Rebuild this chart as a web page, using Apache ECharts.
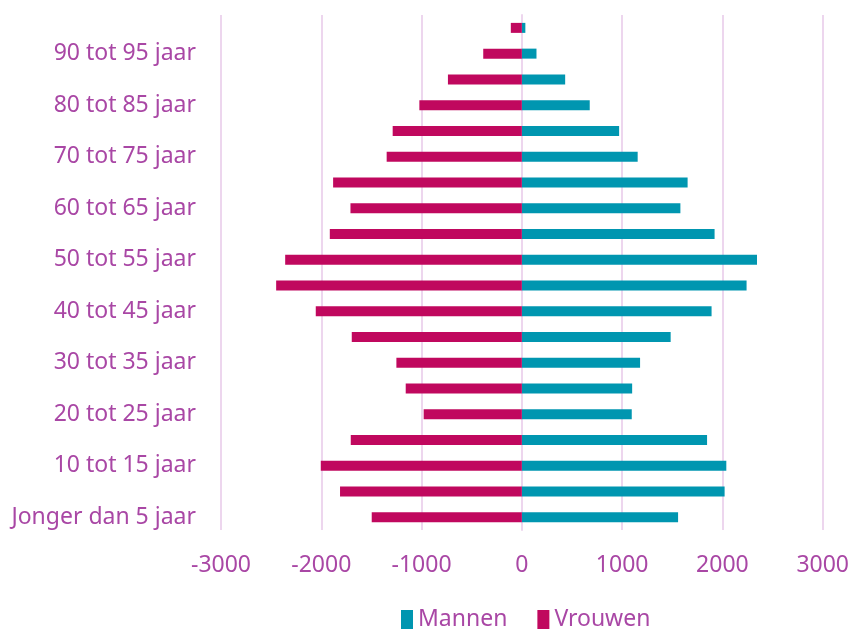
<!DOCTYPE html>
<html>
<head>
<meta charset="utf-8">
<script src="https://cdn.jsdelivr.net/npm/echarts@6/dist/echarts.min.js"></script>
<style>
  html, body { margin: 0; padding: 0; background: #fff; }
  #chart { width: 852px; height: 633px; }
</style>
</head>
<body>
<div id="chart"></div>
<script>
var leeftijden = [
    'Jonger dan 5 jaar', '5 tot 10 jaar', '10 tot 15 jaar', '15 tot 20 jaar',
    '20 tot 25 jaar', '25 tot 30 jaar', '30 tot 35 jaar', '35 tot 40 jaar',
    '40 tot 45 jaar', '45 tot 50 jaar', '50 tot 55 jaar', '55 tot 60 jaar',
    '60 tot 65 jaar', '65 tot 70 jaar', '70 tot 75 jaar', '75 tot 80 jaar',
    '80 tot 85 jaar', '85 tot 90 jaar', '90 tot 95 jaar', '95 jaar of ouder'
];
var mannen = [1558, 2022, 2039, 1847, 1096, 1100, 1179, 1484, 1892, 2241,
              2345, 1922, 1581, 1653, 1155, 970, 677, 432, 146, 35];
var vrouwen = [-1497, -1813, -2005, -1706, -979, -1158, -1251, -1696, -2055, -2450,
               -2360, -1915, -1709, -1882, -1348, -1288, -1022, -737, -385, -110];
var xTicks = [-3000, -2000, -1000, 0, 1000, 2000, 3000];

var tekstKleur = '#A947A5';
var rasterKleur = '#EDD6EE';

var myChart = echarts.init(document.getElementById('chart'));

var option = {
    animation: false,
    textStyle: { fontFamily: 'Noto Sans' },
    color: ['#0096B0', '#C0085E'],
    grid: {
        left: 221,
        right: 28,
        top: 15,
        bottom: 103
    },
    legend: {
        bottom: -3,
        left: 396,
        itemWidth: 12,
        itemHeight: 19,
        itemGap: 30,
        icon: 'rect',
        textStyle: { color: tekstKleur, fontSize: 23, fontFamily: 'Noto Sans' },
        data: ['Mannen', 'Vrouwen']
    },
    xAxis: {
        type: 'value',
        min: xTicks[0],
        max: xTicks[xTicks.length - 1],
        interval: 1000,
        axisLine: { show: false },
        axisTick: { show: false },
        splitLine: { lineStyle: { color: rasterKleur, width: 2 } },
        axisLabel: {
            color: tekstKleur, fontSize: 23, margin: 24,
            formatter: function (v) { return String(v); }
        }
    },
    yAxis: {
        type: 'category',
        data: leeftijden,
        axisLine: { show: true, lineStyle: { color: rasterKleur, width: 2 } },
        axisTick: { show: false },
        axisLabel: { color: tekstKleur, fontSize: 23, margin: 25, interval: 1 }
    },
    series: [
        {
            name: 'Mannen',
            type: 'bar',
            data: mannen,
            barWidth: 10,
            barGap: '-100%'
        },
        {
            name: 'Vrouwen',
            type: 'bar',
            data: vrouwen,
            barWidth: 10,
            barGap: '-100%'
        }
    ]
};

myChart.setOption(option);
</script>
</body>
</html>
